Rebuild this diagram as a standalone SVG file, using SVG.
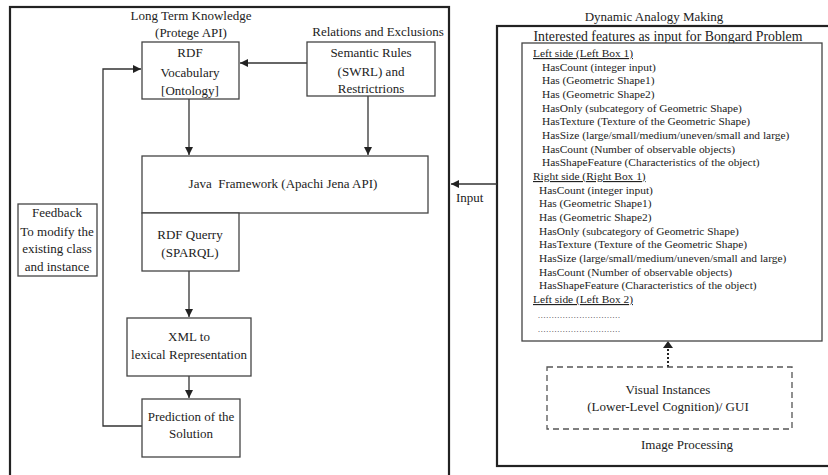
<svg xmlns="http://www.w3.org/2000/svg" width="828" height="475" viewBox="0 0 828 475">
<style>
text{font-family:"Liberation Serif","Times New Roman",serif;fill:#222;}
.t13{font-size:13px;}
.t12{font-size:12.5px;}
.t11{font-size:11.4px;}
.c{text-anchor:middle;}
.box{fill:#fff;stroke:#444;stroke-width:1.3;}
.panel{fill:none;stroke:#222;stroke-width:2.2;}
.ln{fill:none;stroke:#333;stroke-width:1.3;}
.u{text-decoration:underline;}
</style>
<defs>
<marker id="ah" viewBox="0 0 10 10" refX="10" refY="5" markerWidth="8" markerHeight="8" markerUnits="userSpaceOnUse" orient="auto">
<path d="M0,0 L10,5 L0,10 z" fill="#222"/>
</marker>
</defs>

<rect class="panel" x="10" y="7" width="439" height="480"/>
<rect class="panel" x="497" y="26" width="335" height="440"/>

<g id="labels">
<text class="t13 c" x="191" y="20">Long Term Knowledge</text>
<text class="t13 c" x="191" y="37">(Protege API)</text>
<text class="t13 c" x="378" y="36">Relations and Exclusions</text>
<text class="t13 c" x="654" y="21">Dynamic Analogy Making</text>
<text class="c" font-size="13.8" x="668" y="41">Interested features as input for Bongard Problem</text>
<text class="t13 c" x="687" y="449">Image Processing</text>
</g>

<g id="connectors">
<line class="ln" x1="307" y1="63" x2="240" y2="63" marker-end="url(#ah)"/>
<line class="ln" x1="189" y1="99" x2="189" y2="155" marker-end="url(#ah)"/>
<line class="ln" x1="368" y1="96" x2="368" y2="155" marker-end="url(#ah)"/>
<line class="ln" x1="189" y1="271" x2="189" y2="317" marker-end="url(#ah)"/>
<line class="ln" x1="189" y1="376" x2="189" y2="398" marker-end="url(#ah)"/>
<polyline class="ln" points="142,426 103,426 103,69 141,69" marker-end="url(#ah)"/>
<line class="ln" x1="497" y1="184" x2="451" y2="184" marker-end="url(#ah)"/>
<line x1="668" y1="367" x2="668" y2="346" stroke="#222" stroke-width="2" stroke-dasharray="2,2"/>
<path d="M668,341 L673,348 L663,348 z" fill="#222"/>
</g>
<text class="t13" x="456" y="202">Input</text>

<g id="rdf-vocab">
<rect class="box" x="142" y="42" width="97" height="57"/>
<text class="t13 c" x="190" y="57">RDF</text>
<text class="t13 c" x="190" y="77">Vocabulary</text>
<text class="t13 c" x="190" y="95">[Ontology]</text>
</g>

<g id="semantic-rules">
<rect class="box" x="307" y="42" width="128" height="54"/>
<text class="t13 c" x="371" y="57">Semantic Rules</text>
<text class="t13 c" x="371" y="76">(SWRL) and</text>
<text class="t13 c" x="371" y="93">Restrictrions</text>
</g>

<g id="java">
<rect class="box" x="142" y="156" width="286" height="57"/>
<text class="t13 c" x="283" y="188" xml:space="preserve">Java  Framework (Apachi Jena API)</text>
</g>

<g id="rdf-query">
<rect class="box" x="142" y="213" width="97" height="58"/>
<text class="t13 c" x="190" y="239">RDF Querry</text>
<text class="t13 c" x="190" y="257">(SPARQL)</text>
</g>

<g id="feedback">
<rect class="box" x="18" y="204" width="79" height="72"/>
<text class="t13 c" x="57" y="217">Feedback</text>
<text class="t13 c" x="57" y="236">To modify the</text>
<text class="t13 c" x="57" y="253">existing class</text>
<text class="t13 c" x="57" y="271">and instance</text>
</g>

<g id="xml">
<rect class="box" x="127" y="318" width="124" height="58"/>
<text class="t13 c" x="189" y="341">XML to</text>
<text class="t13 c" x="189" y="359">lexical Representation</text>
</g>

<g id="prediction">
<rect class="box" x="142" y="399" width="98" height="58"/>
<text class="t13 c" x="191" y="421">Prediction of the</text>
<text class="t13 c" x="191" y="438">Solution</text>
</g>

<g id="features">
<rect class="box" x="522" y="43" width="300" height="298"/>
<g class="t11">
<text class="u" x="533" y="57">Left side (Left Box 1)</text>
<text x="542" y="70.7">HasCount (integer input)</text>
<text x="542" y="84.3">Has (Geometric Shape1)</text>
<text x="542" y="98">Has (Geometric Shape2)</text>
<text x="542" y="111.7">HasOnly (subcategory of Geometric Shape)</text>
<text x="542" y="125.3">HasTexture (Texture of the Geometric Shape)</text>
<text x="542" y="139">HasSize (large/small/medium/uneven/small and large)</text>
<text x="542" y="152.7">HasCount (Number of observable objects)</text>
<text x="542" y="166.3">HasShapeFeature (Characteristics of the object)</text>
<text class="u" x="533" y="180">Right side (Right Box 1)</text>
<text x="539" y="193.7">HasCount (integer input)</text>
<text x="539" y="207.3">Has (Geometric Shape1)</text>
<text x="539" y="221">Has (Geometric Shape2)</text>
<text x="539" y="234.7">HasOnly (subcategory of Geometric Shape)</text>
<text x="539" y="248.3">HasTexture (Texture of the Geometric Shape)</text>
<text x="539" y="262">HasSize (large/small/medium/uneven/small and large)</text>
<text x="539" y="275.7">HasCount (Number of observable objects)</text>
<text x="539" y="289.3">HasShapeFeature (Characteristics of the object)</text>
<text class="u" x="533" y="303">Left side (Left Box 2)</text>
<text x="538" y="318" font-size="8" textLength="82" lengthAdjust="spacing">..............................</text>
<text x="538" y="332" font-size="8" textLength="82" lengthAdjust="spacing">..............................</text>
</g>
</g>

<g id="visual-instances">
<rect x="547" y="367" width="245" height="62" fill="none" stroke="#555" stroke-width="1.3" stroke-dasharray="6,4"/>
<text class="t13 c" x="668" y="394">Visual Instances</text>
<text class="t13 c" x="668" y="411">(Lower-Level Cognition)/ GUI</text>
</g>
</svg>
